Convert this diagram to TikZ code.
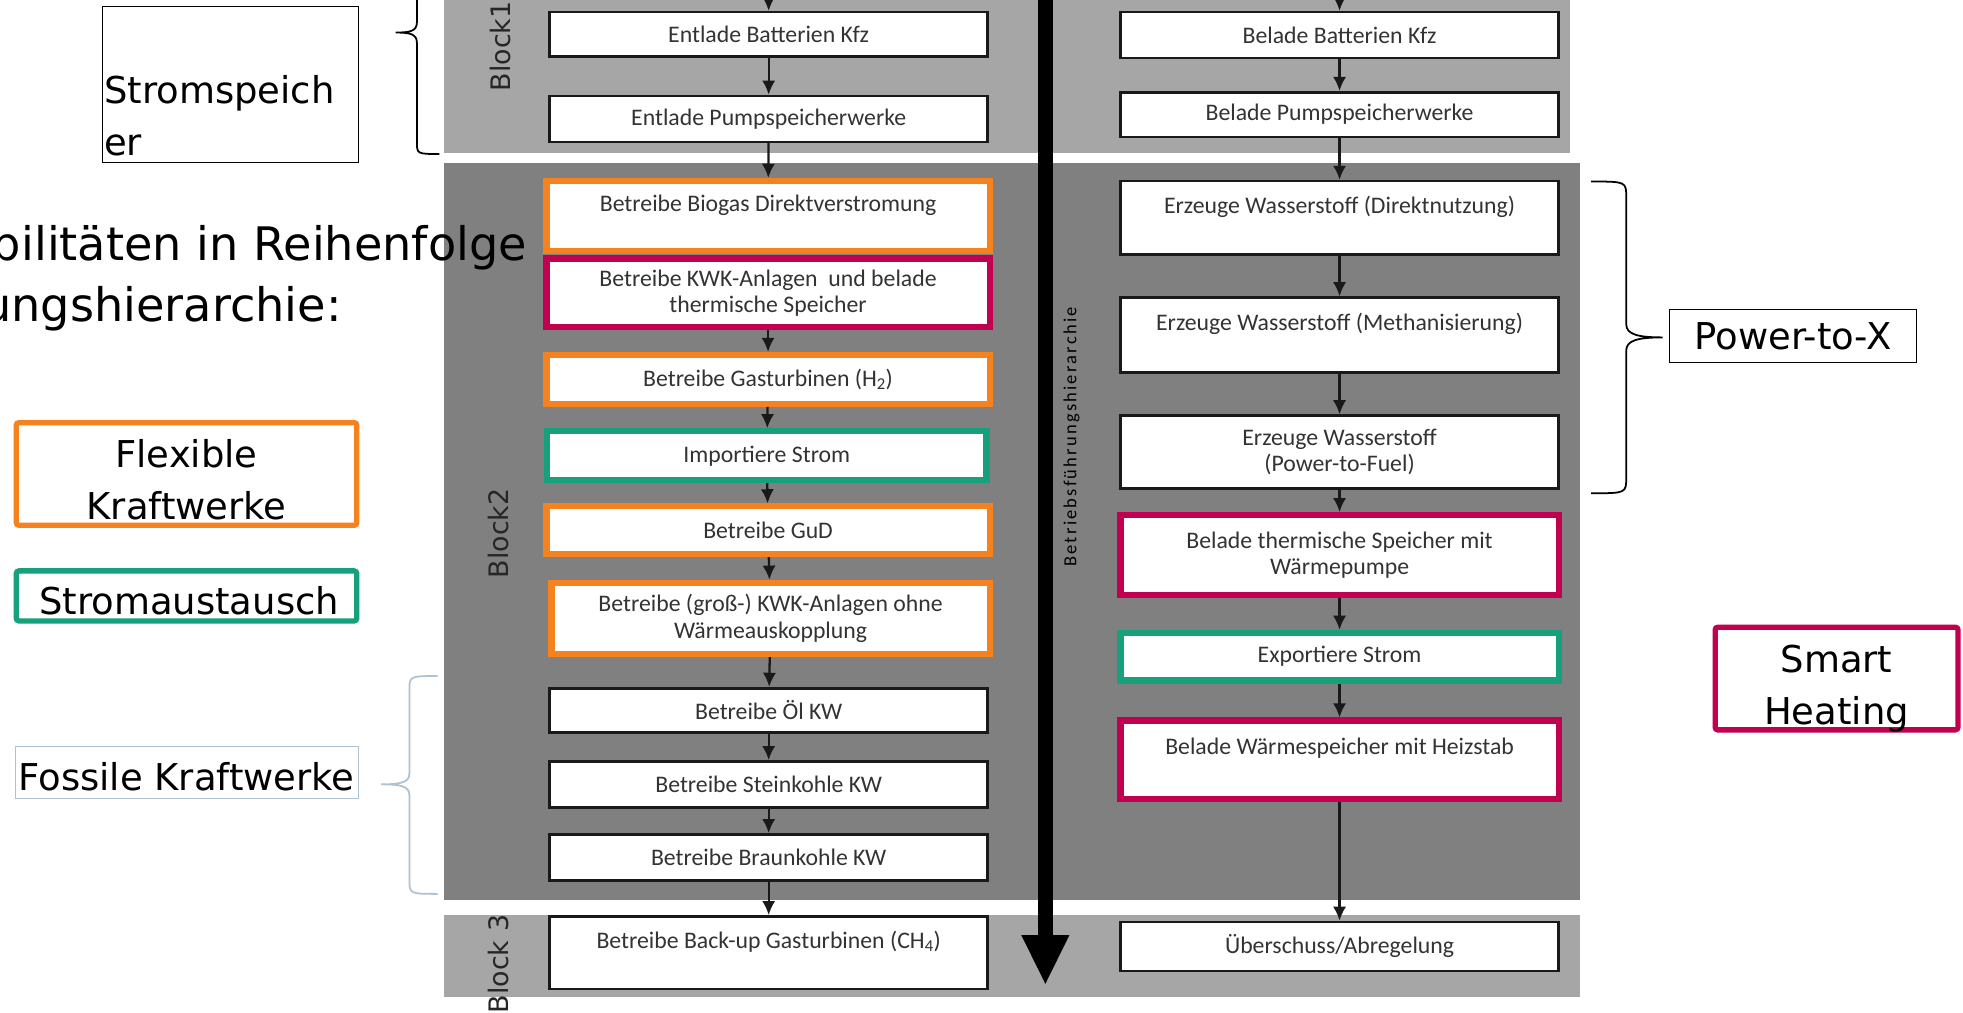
\documentclass[tikz,border=0pt]{standalone}
\usepackage{fontspec}
\setmainfont{DejaVu Sans}
\newfontfamily\boxfont{Carlito}
\newfontfamily\hierfont[LetterSpace=12]{Carlito}
\usetikzlibrary{arrows.meta}
\definecolor{flexorange}{HTML}{F5821F}
\definecolor{heatred}{HTML}{C1004F}
\definecolor{tradegreen}{HTML}{17A07C}
\definecolor{lightblock}{HTML}{A6A6A6}
\definecolor{darkblock}{HTML}{808080}
\definecolor{fossilblue}{HTML}{AEC2D1}
\begin{document}
\begin{tikzpicture}[
        x=0.05cm, y=-0.05cm,
        >={Latex[length=16pt, width=15pt]},
        basic/.style = {draw=black!90, line width=3pt, fill=white, inner sep=0pt, align=center,
            text=black!80, font=\boxfont\fontsize{27}{30}\selectfont, minimum width=17.5cm},
        flexbox/.style = {basic, draw=flexorange, line width=7pt, minimum width=17.5cm},
        heatbox/.style = {basic, draw=heatred, line width=7pt, minimum width=17.5cm},
        tradebox/.style = {basic, draw=tradegreen, line width=7pt, minimum width=17.5cm},
        blocklabel/.style = {rotate=90, text=black!85, font=\fontsize{30.5}{36}\selectfont},
        legend/.style = {inner sep=0pt, align=center, font=\fontsize{42}{59}\selectfont},
        legendbox/.style = {inner sep=0pt, rounded corners=3pt, line width=6pt},
        bigtitle/.style = {inner sep=0pt, font=\fontsize{52.5}{70}\selectfont},
        flow/.style = {->, line width=2.6pt, draw=black!90},
        bracket/.style = {line width=2pt}]
    \useasboundingbox (0,0) rectangle (1568,809);
    \clip (0,0) rectangle (1568,809);
    \fill[white] (0,0) rectangle (1568,809);

    % Bloecke
    \fill[lightblock] (355,-10) rectangle (1254,122.5);
    \fill[darkblock] (355,130.5) rectangle (1262,718.5);
    \fill[lightblock] (355,731) rectangle (1262,796.5);
    \node[blocklabel] (block1) at (400,37) {Block1};
    \node[blocklabel] (block2) at (398,426) {Block2};
    \node[blocklabel] (block3) at (398,770) {Block 3};

    \node[bigtitle, anchor=base east] (titletop) at (421,207.7) {Flexibilitäten in Reihenfolge};
    \node[bigtitle, anchor=base east] (titlebottom) at (273,257) {Betriebsführungshierarchie:};

    % Hierarchiepfeil
    \coordinate (hiertop) at (835,-10);
    \coordinate (hiertip) at (835,787);
    \draw[line width=17pt, -{Triangle[width=50pt, length=57pt]}] (hiertop) -- (hiertip);
    \node[rotate=90, text=black, font=\hierfont\fontsize{21}{25}\selectfont] (hierlabel) at (856,349) {Betriebsführungshierarchie};

    % linke Spalte
    \node[basic, minimum height=1.78cm] (unloadcar) at (614,27.5) {Entlade Batterien Kfz};
    \node[basic, minimum height=1.83cm] (unloadpump) at (614,95) {Entlade Pumpspeicherwerke};
    \node[flexbox, minimum height=2.8cm, minimum width=17.7cm] (biogas) at (613.5,172.5) {Betreibe Biogas Direktverstromung\\\mbox{}};
    \node[heatbox, minimum height=2.75cm, minimum width=17.7cm] (chp) at (613.5,234) {Betreibe KWK-Anlagen~ und belade\\thermische Speicher};
    \node[flexbox, minimum height=1.95cm, minimum width=17.7cm] (gasturb) at (613.5,303) {Betreibe Gasturbinen (H\textsubscript{2})};
    \node[tradebox, minimum height=1.95cm, minimum width=17.55cm] (import) at (612.5,364) {Importiere Strom};
    \node[flexbox, minimum height=1.9cm, minimum width=17.7cm] (ccgt) at (613.5,423.5) {Betreibe GuD};
    \node[flexbox, minimum height=2.85cm] (chpbig) at (615.5,494) {Betreibe (groß-) KWK-Anlagen ohne\\Wärmeauskopplung};
    \node[basic, minimum height=1.78cm] (oil) at (614,567.5) {Betreibe Öl KW};
    \node[basic, minimum height=1.83cm] (coal) at (614,626.5) {Betreibe Steinkohle KW};
    \node[basic, minimum height=1.85cm] (lignite) at (614,685) {Betreibe Braunkohle KW};
    \node[basic, minimum height=2.9cm] (backup) at (614,761) {Betreibe Back-up Gasturbinen (CH\textsubscript{4})\\\mbox{}};

    % rechte Spalte
    \node[basic, minimum height=1.83cm] (loadcar) at (1070,28) {Belade Batterien Kfz};
    \node[basic, minimum height=1.78cm] (loadpump) at (1070,91.5) {Belade Pumpspeicherwerke};
    \node[basic, minimum height=2.93cm] (htwo) at (1070,174) {Erzeuge Wasserstoff (Direktnutzung)\\\mbox{}};
    \node[basic, minimum height=2.98cm] (methan) at (1070,267.5) {Erzeuge Wasserstoff (Methanisierung)\\\mbox{}};
    \node[basic, minimum height=2.9cm] (fuel) at (1070,361) {Erzeuge Wasserstoff\\(Power-to-Fuel)};
    \node[heatbox, minimum height=3.2cm] (heatpump) at (1070,443.5) {Belade thermische Speicher mit\\Wärmepumpe};
    \node[tradebox, minimum height=1.9cm] (export) at (1070,524.5) {Exportiere Strom};
    \node[heatbox, minimum height=3.15cm] (heatrod) at (1070,607) {Belade Wärmespeicher mit Heizstab\\\mbox{}};
    \node[basic, minimum height=1.95cm] (surplus) at (1070,756) {Überschuss/Abregelung};

    \coordinate (lefttop) at (614,-10);
    \coordinate (righttop) at (1070,-10);
    \draw[flow] (lefttop) -- (unloadcar);
    \draw[flow] (unloadcar) -- (unloadpump);
    \draw[flow] (unloadpump) -- (biogas);
    \draw[flow] (chp) -- (gasturb);
    \draw[flow] (gasturb) -- (import);
    \draw[flow] (import) -- (ccgt);
    \draw[flow] (ccgt) -- (chpbig);
    \draw[flow] (chpbig) -- (oil);
    \draw[flow] (oil) -- (coal);
    \draw[flow] (coal) -- (lignite);
    \draw[flow] (lignite) -- (backup);
    \draw[flow] (righttop) -- (loadcar);
    \draw[flow] (loadcar) -- (loadpump);
    \draw[flow] (loadpump) -- (htwo);
    \draw[flow] (htwo) -- (methan);
    \draw[flow] (methan) -- (fuel);
    \draw[flow] (fuel) -- (heatpump);
    \draw[flow] (heatpump) -- (export);
    \draw[flow] (export) -- (heatrod);
    \draw[flow] (heatrod) -- (surplus);

    % Legende
    \node[draw, line width=1pt, minimum width=10.2cm, minimum height=6.25cm] (storebox) at (184,67.5) {};
    \node[legend, align=left, anchor=south west] (storetext) at (83,124.5) {Stromspeich\\er};
    \node[legendbox, draw=flexorange, minimum width=13.6cm, minimum height=4.1cm] (flexlegend) at (149,378.6) {};
    \node[legend] (flextext) at (149,383.5) {Flexible\\Kraftwerke};
    \node[legendbox, draw=tradegreen, minimum width=13.6cm, minimum height=2cm] (tradelegend) at (149,476) {};
    \node[legend] (tradetext) at (151,480) {Stromaustausch};
    \node[draw=fossilblue, line width=1pt, minimum width=13.7cm, minimum height=2.07cm] (fossillegend) at (149,616.75) {};
    \node[legend] (fossiltext) at (149,620.5) {Fossile Kraftwerke};
    \node[legend, draw, line width=1pt, minimum width=9.87cm, minimum height=2.1cm] (ptxlegend) at (1432.3,268.5) {Power-to-X};
    \node[legendbox, draw=heatred, minimum width=9.7cm, minimum height=4.1cm] (heatlegend) at (1467,542) {};
    \node[legend] (heattext) at (1467,550) {Smart\\Heating};

    % Klammern
    \draw[bracket] (351,123) .. controls (333,123) and (333,123) .. (333,113) -- (333,34)
        .. controls (333,27) and (327,26) .. (316,26) .. controls (327,26) and (333,25) .. (333,18)
        -- (333,-61) .. controls (333,-71) and (333,-71) .. (351,-71);
    \draw[bracket, draw=fossilblue] (349.5,714) .. controls (327,714) and (327,714) .. (327,702) -- (327,635)
        .. controls (327,628) and (320,626.5) .. (304.5,626.5) .. controls (320,626.5) and (327,625) .. (327,618)
        -- (327,552) .. controls (327,540) and (327,540) .. (349.5,540);
    \draw[bracket] (1271,145) .. controls (1299,145) and (1299,145) .. (1299,158) -- (1299,259)
        .. controls (1299,267) and (1308,269.5) .. (1328,269.5) .. controls (1308,269.5) and (1299,272) .. (1299,280)
        -- (1299,381) .. controls (1299,394) and (1299,394) .. (1271,394);
\end{tikzpicture}
\end{document}
